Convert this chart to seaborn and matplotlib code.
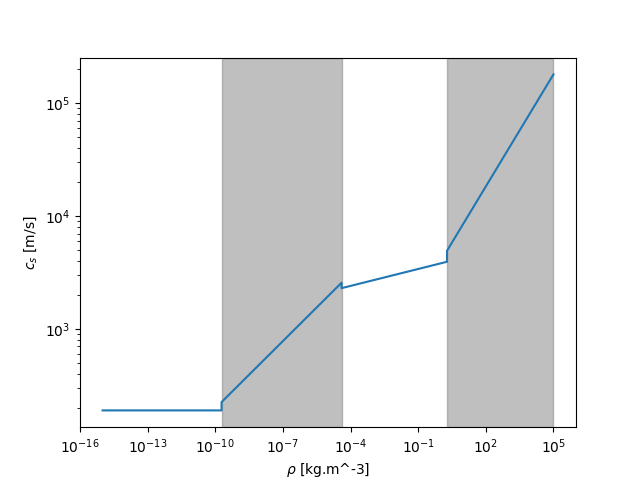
import numpy as np
import pandas as pd
import matplotlib
matplotlib.use("Agg")
import matplotlib.pyplot as plt
import seaborn as sns

# density breakpoints [kg/m^3] and sound speed [m/s]
rho = [1e-15, 1.9e-10, 1.9e-10, 4e-5, 4e-5, 1.9, 1.9, 1e5]
cs = [190, 190, 225, 2570, 2300, 3940, 4930, 1.8e5]

# shaded density ranges
shade_lo = [1.9e-10, 1.9]
shade_hi = [4e-5, 1e5]

df = pd.DataFrame({"rho": rho, "cs": cs})

fig, ax = plt.subplots(figsize=(6.4, 4.8), dpi=100)

for lo, hi in zip(shade_lo, shade_hi):
    ax.axvspan(lo, hi, color="gray", alpha=0.5)

sns.lineplot(data=df, x="rho", y="cs", estimator=None, sort=False, ax=ax, color="C0")

ax.set_xscale("log")
ax.set_yscale("log")
ax.set_xlabel(r"$\rho$ [kg.m^-3]")
ax.set_ylabel(r"$c_s$ [m/s]")

fig.savefig("out.png", dpi=100)
